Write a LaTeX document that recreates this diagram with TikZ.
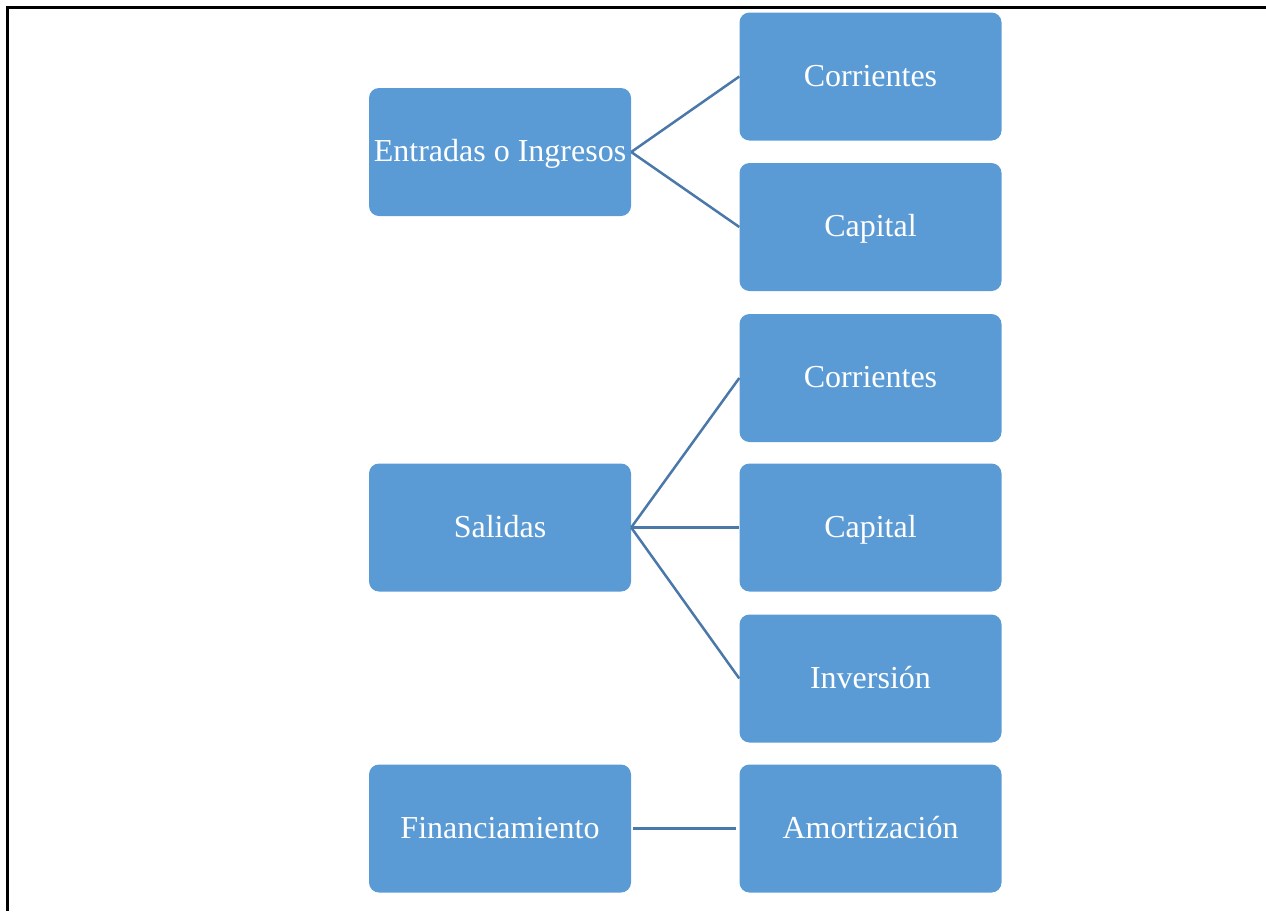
\documentclass[tikz,border=0pt]{standalone}
\usepackage{fontspec}
\setmainfont{Liberation Serif}
\definecolor{boxblue}{HTML}{5B9BD5}
\definecolor{linkblue}{HTML}{4A78A8}
\begin{document}
\begin{tikzpicture}[x=1pt,y=-1pt,
  box/.style={rectangle, rounded corners=10pt, fill=boxblue, draw=none,
    minimum width=262pt, minimum height=128pt, inner sep=0pt,
    text height=24pt, text depth=5pt,
    text=white, font=\fontsize{32}{38}\selectfont},
  link/.style={draw=linkblue, line width=2.5pt}]
\useasboundingbox (0,0) rectangle (1266,911);
\draw[line width=2.5pt] (7.5,911) -- (7.5,7.5) -- (1266,7.5);
\node[box] (ent) at (500,152) {Entradas o Ingresos};
\node[box] (sal) at (500,527.5) {Salidas};
\node[box] (fin) at (500,828.5) {Financiamiento};
\node[box] (c1) at (870.5,76.5) {Corrientes};
\node[box] (k1) at (870.5,227) {Capital};
\node[box] (c2) at (870.5,378) {Corrientes};
\node[box] (k2) at (870.5,527.5) {Capital};
\node[box] (inv) at (870.5,678.5) {Inversión};
\node[box] (amo) at (870.5,828.5) {Amortización};
\draw[link] (ent.east) -- (c1.west);
\draw[link] (ent.east) -- (k1.west);
\draw[link] (sal.east) -- (c2.west);
\draw[link] (sal.east) -- (k2.west);
\draw[link] (sal.east) -- (inv.west);
\draw[link] ([xshift=2pt]fin.east) -- ([xshift=-3pt]amo.west);
\end{tikzpicture}
\end{document}
